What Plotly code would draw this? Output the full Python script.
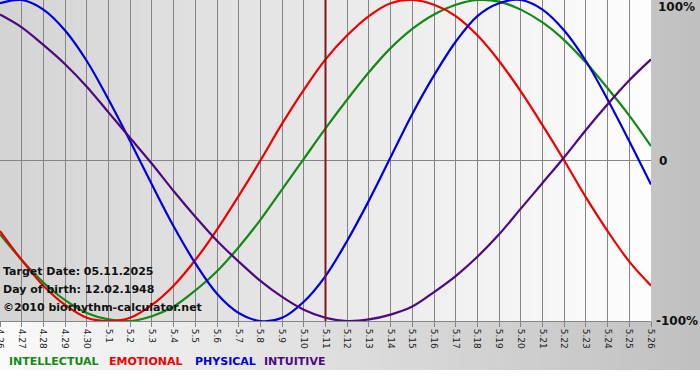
import plotly.graph_objects as go

# ---- data ----
day_labels = ["4.26", "4.27", "4.28", "4.29", "4.30", "5.1", "5.2", "5.3", "5.4", "5.5",
              "5.6", "5.7", "5.8", "5.9", "5.10", "5.11", "5.12", "5.13", "5.14", "5.15",
              "5.16", "5.17", "5.18", "5.19", "5.20", "5.21", "5.22", "5.23", "5.24", "5.25", "5.26"]

physical = [98, 100, 94, 81, 62, 38, 12, -15, -41, -64, -83, -95, -100, -98, -88, -72,
            -50, -25, 2, 29, 53, 74, 90, 98, 100, 94, 81, 62, 38, 12, -15]
emotional = [-44, -62, -78, -90, -98, -100, -98, -90, -78, -62, -43, -22, 0, 23, 44, 63,
             78, 90, 98, 100, 97, 90, 78, 62, 43, 22, 0, -23, -44, -63, -78]
intellectual = [-46, -62, -76, -87, -95, -99, -100, -97, -91, -81, -69, -54, -37, -18, 1, 20,
                38, 55, 70, 82, 91, 97, 100, 99, 94, 86, 75, 61, 45, 28, 9]
intuitive = [91, 83, 72, 60, 46, 30, 14, -2, -19, -35, -50, -63, -75, -85, -93, -98,
             -100, -99, -96, -91, -82, -72, -60, -46, -30, -14, 2, 19, 35, 50, 63]

target_label = "5.11"
series = [("INTELLECTUAL", intellectual, "#138a13"),
          ("EMOTIONAL", emotional, "#ee0000"),
          ("PHYSICAL", physical, "#0000dd"),
          ("INTUITIVE", intuitive, "#4d0a80")]

W, H = 700, 380
L, R, T, B = 0, 49, 0, 59
PW, PH = W - L - R, H - T - B


def px(xp):
    return (xp - L) / PW


def py(yp):
    return (T + PH - yp) / PH


def grey(a, b, f):
    v = round(a + (b - a) * f)
    return f"rgb({v},{v},{v})"


x = list(range(len(day_labels)))
fig = go.Figure()

for name, vals, col in series:
    fig.add_trace(go.Scatter(x=x, y=vals, mode="lines", name=name,
                             line=dict(color=col, width=2.2, shape="spline", smoothing=1.0),
                             hoverinfo="skip", showlegend=False))

shapes = []
# outer gradient (white -> grey)
n = 70
for i in range(n):
    x0 = i * W / n
    x1 = (i + 1) * W / n + 0.5
    shapes.append(dict(type="rect", xref="paper", yref="paper", x0=px(x0), x1=px(x1),
                       y0=py(370), y1=py(0), fillcolor=grey(250, 192, (i + 0.5) / n),
                       line=dict(width=0), layer="below"))
# plot area gradient (grey -> white)
for i in range(n):
    x0 = i / n
    x1 = (i + 1) / n + 0.002
    shapes.append(dict(type="rect", xref="paper", yref="paper", x0=x0, x1=min(x1, 1),
                       y0=0, y1=1, fillcolor=grey(212, 253, (i + 0.5) / n),
                       line=dict(width=0), layer="below"))
# target day line
ti = day_labels.index(target_label)
shapes.append(dict(type="line", xref="x", yref="paper", x0=ti, x1=ti, y0=0, y1=1,
                   line=dict(color="#7a1a1a", width=2), layer="above"))

ann = []
info = ["Target Date: 05.11.2025", "Day of birth: 12.02.1948", "©2010 biorhythm-calculator.net"]
for k, (txt, yy) in enumerate(zip(info, [271, 289, 307])):
    ann.append(dict(text=f"<b>{txt}</b>", xref="paper", yref="paper", x=px(1), y=py(yy),
                    xanchor="left", yanchor="middle", showarrow=False,
                    font=dict(family="DejaVu Sans", size=11, color="#111111")))
for txt, yy in [("100%", 7), ("0", 161), ("-100%", 321)]:
    ann.append(dict(text=f"<b>{txt}</b>", xref="paper", yref="paper",
                    x=px(697 if txt == "100%" else (700 if txt == "-100%" else 657)), y=py(yy),
                    xanchor="right" if txt != "0" else "left", yanchor="middle", showarrow=False,
                    font=dict(family="DejaVu Sans", size=12, color="#111111")))
lx = [7, 107, 193, 262]
for (name, vals, col), xx in zip(series, lx):
    ann.append(dict(text=f"<b>{name}</b>", xref="paper", yref="paper", x=px(xx), y=py(361),
                    xanchor="left", yanchor="middle", showarrow=False,
                    font=dict(family="DejaVu Sans", size=11, color=col)))

fig.update_layout(
    width=W, height=H,
    margin=dict(l=L, r=R, t=T, b=B, autoexpand=False),
    paper_bgcolor="white", plot_bgcolor="rgba(0,0,0,0)",
    shapes=shapes, annotations=ann,
    xaxis=dict(range=[0, len(day_labels) - 1], tickmode="array", tickvals=x, ticktext=day_labels,
               tickangle=90, showgrid=True, gridcolor="#858585", gridwidth=1,
               ticks="outside", ticklen=5, tickcolor="#858585",
               showline=True, mirror=True, linecolor="#858585", linewidth=1,
               zeroline=False, automargin=False, ticklabeloverflow="allow",
               tickfont=dict(family="DejaVu Sans", size=9, color="#222222")),
    yaxis=dict(range=[-100, 100], tickvals=[0], showticklabels=False, showgrid=True,
               gridcolor="#858585", gridwidth=1, zeroline=False, ticks=""),
)

fig.write_html("out.html", config={"displayModeBar": False, "staticPlot": True},
               post_script="document.body.style.margin='0';document.body.style.overflow='hidden';")
